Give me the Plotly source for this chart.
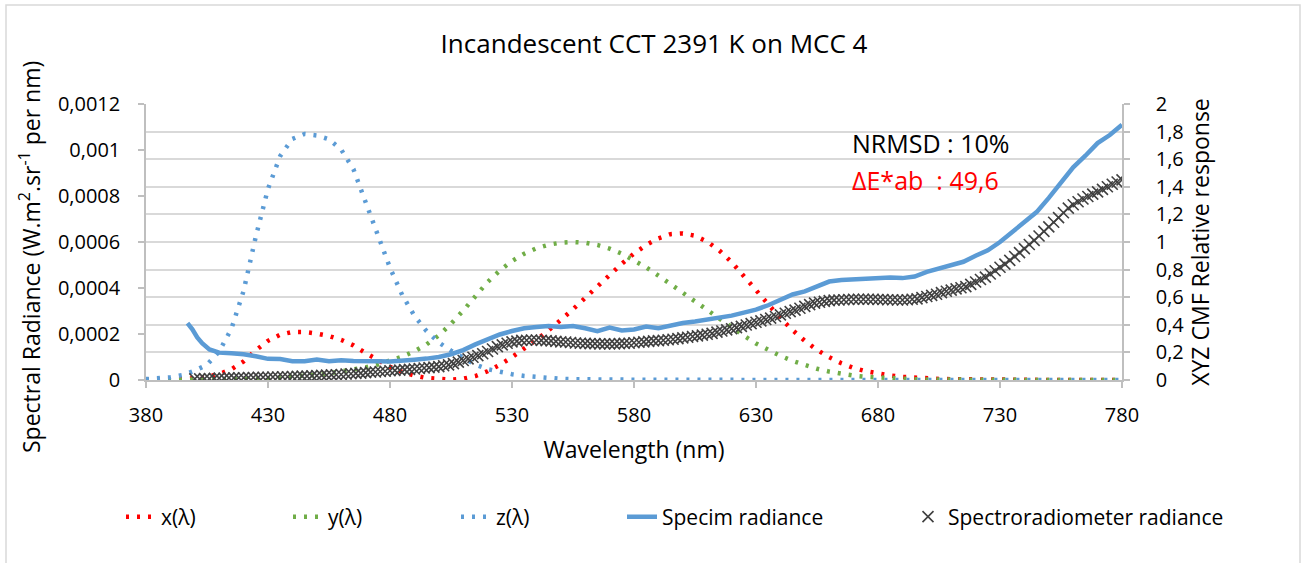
import plotly.graph_objects as go

FONT = "Open Sans"

# CIE 1931 colour matching functions, 380-780 nm every 5 nm (right axis)
cmf_wl = list(range(380, 785, 5))
x_bar = [0.0014, 0.0022, 0.0042, 0.0077, 0.0143, 0.0232, 0.0435, 0.0776, 0.1344, 0.2148,
         0.2839, 0.3285, 0.3483, 0.3481, 0.3362, 0.3187, 0.2908, 0.2511, 0.1954, 0.1421,
         0.0956, 0.0580, 0.0320, 0.0147, 0.0049, 0.0024, 0.0093, 0.0291, 0.0633, 0.1096,
         0.1655, 0.2257, 0.2904, 0.3597, 0.4334, 0.5121, 0.5945, 0.6784, 0.7621, 0.8425,
         0.9163, 0.9786, 1.0263, 1.0567, 1.0622, 1.0456, 1.0026, 0.9384, 0.8544, 0.7514,
         0.6424, 0.5419, 0.4479, 0.3608, 0.2835, 0.2187, 0.1649, 0.1212, 0.0874, 0.0636,
         0.0468, 0.0329, 0.0227, 0.0158, 0.0114, 0.0081, 0.0058, 0.0041, 0.0029, 0.0020,
         0.0014, 0.0010, 0.0007, 0.0005, 0.0003, 0.0002, 0.0002, 0.0001, 0.0001, 0.0001, 0.0000]
y_bar = [0.0000, 0.0001, 0.0001, 0.0002, 0.0004, 0.0006, 0.0012, 0.0022, 0.0040, 0.0073,
         0.0116, 0.0168, 0.0230, 0.0298, 0.0380, 0.0480, 0.0600, 0.0739, 0.0910, 0.1126,
         0.1390, 0.1693, 0.2080, 0.2586, 0.3230, 0.4073, 0.5030, 0.6082, 0.7100, 0.7932,
         0.8620, 0.9149, 0.9540, 0.9803, 0.9950, 1.0000, 0.9950, 0.9786, 0.9520, 0.9154,
         0.8700, 0.8163, 0.7570, 0.6949, 0.6310, 0.5668, 0.5030, 0.4412, 0.3810, 0.3210,
         0.2650, 0.2170, 0.1750, 0.1382, 0.1070, 0.0816, 0.0610, 0.0446, 0.0320, 0.0232,
         0.0170, 0.0119, 0.0082, 0.0057, 0.0041, 0.0029, 0.0021, 0.0015, 0.0010, 0.0007,
         0.0005, 0.0004, 0.0002, 0.0002, 0.0001, 0.0001, 0.0001, 0.0000, 0.0000, 0.0000, 0.0000]
z_bar = [0.0065, 0.0106, 0.0201, 0.0362, 0.0679, 0.1102, 0.2074, 0.3713, 0.6456, 1.0391,
         1.3856, 1.6230, 1.7471, 1.7826, 1.7721, 1.7441, 1.6692, 1.5281, 1.2876, 1.0419,
         0.8130, 0.6162, 0.4652, 0.3533, 0.2720, 0.2123, 0.1582, 0.1117, 0.0783, 0.0573,
         0.0422, 0.0298, 0.0203, 0.0134, 0.0088, 0.0058, 0.0039, 0.0028, 0.0021, 0.0018,
         0.0017, 0.0014, 0.0011, 0.0010, 0.0008, 0.0006, 0.0003, 0.0002, 0.0002, 0.0001,
         0.0, 0.0, 0.0, 0.0, 0.0, 0.0, 0.0, 0.0, 0.0, 0.0,
         0.0, 0.0, 0.0, 0.0, 0.0, 0.0, 0.0, 0.0, 0.0, 0.0,
         0.0, 0.0, 0.0, 0.0, 0.0, 0.0, 0.0, 0.0, 0.0, 0.0, 0.0]

# Specim camera radiance (left axis, W.m-2.sr-1 per nm)
specim_wl = [397, 399, 401, 403, 406, 410, 415, 420, 425, 430,
             435, 440, 445, 450, 455, 460, 465, 470, 475, 480,
             485, 490, 495, 500, 505, 510, 515, 520, 525, 530,
             535, 540, 545, 550, 555, 560, 565, 570, 575, 580,
             585, 590, 595, 600, 605, 610, 615, 620, 625, 630,
             635, 640, 645, 650, 655, 660, 665, 670, 675, 680,
             685, 690, 695, 700, 705, 710, 715, 720, 725, 730,
             735, 740, 745, 750, 755, 760, 765, 770, 775, 780]
specim_rad = [2.47e-4, 2.20e-4, 1.85e-4, 1.60e-4, 1.33e-4, 1.19e-4, 1.16e-4, 1.12e-4, 1.03e-4, 0.92e-4,
              0.91e-4, 0.82e-4, 0.82e-4, 0.89e-4, 0.82e-4, 0.86e-4, 0.83e-4, 0.80e-4, 0.81e-4, 0.80e-4,
              0.82e-4, 0.88e-4, 0.93e-4, 1.00e-4, 1.12e-4, 1.30e-4, 1.55e-4, 1.78e-4, 1.98e-4, 2.13e-4,
              2.25e-4, 2.30e-4, 2.35e-4, 2.31e-4, 2.35e-4, 2.25e-4, 2.12e-4, 2.28e-4, 2.15e-4, 2.20e-4,
              2.32e-4, 2.25e-4, 2.38e-4, 2.48e-4, 2.54e-4, 2.62e-4, 2.70e-4, 2.80e-4, 2.93e-4, 3.06e-4,
              3.25e-4, 3.50e-4, 3.72e-4, 3.85e-4, 4.05e-4, 4.28e-4, 4.35e-4, 4.38e-4, 4.40e-4, 4.44e-4,
              4.46e-4, 4.43e-4, 4.50e-4, 4.70e-4, 4.86e-4, 4.98e-4, 5.14e-4, 5.40e-4, 5.64e-4, 6.00e-4,
              6.42e-4, 6.85e-4, 7.30e-4, 7.92e-4, 8.55e-4, 9.25e-4, 9.75e-4, 10.30e-4, 10.65e-4, 11.10e-4]

# Spectroradiometer radiance, every 2 nm from 400 to 780 nm (left axis)
spectro_wl = list(range(400, 782, 2))
spectro_rad = [
    0.05e-4, 0.05e-4, 0.06e-4, 0.06e-4, 0.07e-4, 0.08e-4, 0.08e-4, 0.09e-4, 0.09e-4, 0.10e-4,
    0.10e-4, 0.11e-4, 0.11e-4, 0.12e-4, 0.12e-4, 0.12e-4, 0.13e-4, 0.13e-4, 0.14e-4, 0.14e-4,
    0.15e-4, 0.16e-4, 0.17e-4, 0.17e-4, 0.18e-4, 0.19e-4, 0.20e-4, 0.21e-4, 0.22e-4, 0.23e-4,
    0.24e-4, 0.26e-4, 0.27e-4, 0.29e-4, 0.30e-4, 0.32e-4, 0.34e-4, 0.35e-4, 0.37e-4, 0.38e-4,
    0.40e-4, 0.42e-4, 0.43e-4, 0.45e-4, 0.46e-4, 0.48e-4, 0.50e-4, 0.52e-4, 0.54e-4, 0.56e-4,
    0.58e-4, 0.62e-4, 0.66e-4, 0.71e-4, 0.78e-4, 0.85e-4, 0.92e-4, 0.99e-4, 1.06e-4, 1.14e-4,
    1.24e-4, 1.35e-4, 1.45e-4, 1.53e-4, 1.60e-4, 1.66e-4, 1.69e-4, 1.72e-4, 1.73e-4, 1.74e-4,
    1.74e-4, 1.72e-4, 1.71e-4, 1.70e-4, 1.68e-4, 1.66e-4, 1.65e-4, 1.63e-4, 1.61e-4, 1.60e-4,
    1.59e-4, 1.58e-4, 1.58e-4, 1.57e-4, 1.57e-4, 1.57e-4, 1.57e-4, 1.58e-4, 1.59e-4, 1.60e-4,
    1.62e-4, 1.64e-4, 1.66e-4, 1.68e-4, 1.70e-4, 1.71e-4, 1.73e-4, 1.75e-4, 1.77e-4, 1.80e-4,
    1.83e-4, 1.86e-4, 1.89e-4, 1.92e-4, 1.95e-4, 1.99e-4, 2.03e-4, 2.08e-4, 2.13e-4, 2.18e-4,
    2.23e-4, 2.28e-4, 2.33e-4, 2.39e-4, 2.45e-4, 2.51e-4, 2.57e-4, 2.63e-4, 2.69e-4, 2.76e-4,
    2.83e-4, 2.90e-4, 2.97e-4, 3.04e-4, 3.12e-4, 3.20e-4, 3.28e-4, 3.34e-4, 3.38e-4, 3.42e-4,
    3.45e-4, 3.47e-4, 3.48e-4, 3.49e-4, 3.50e-4, 3.51e-4, 3.51e-4, 3.51e-4, 3.51e-4, 3.51e-4,
    3.50e-4, 3.50e-4, 3.49e-4, 3.49e-4, 3.48e-4, 3.48e-4, 3.49e-4, 3.51e-4, 3.53e-4, 3.58e-4,
    3.63e-4, 3.68e-4, 3.73e-4, 3.80e-4, 3.86e-4, 3.91e-4, 3.96e-4, 4.01e-4, 4.06e-4, 4.16e-4,
    4.26e-4, 4.37e-4, 4.47e-4, 4.61e-4, 4.75e-4, 4.90e-4, 5.04e-4, 5.20e-4, 5.37e-4, 5.54e-4,
    5.71e-4, 5.89e-4, 6.07e-4, 6.26e-4, 6.46e-4, 6.66e-4, 6.86e-4, 7.06e-4, 7.27e-4, 7.47e-4,
    7.62e-4, 7.75e-4, 7.87e-4, 7.98e-4, 8.08e-4, 8.18e-4, 8.29e-4, 8.40e-4, 8.51e-4, 8.61e-4,
    8.70e-4,
]

RED = "#FF0000"
GREEN = "#70AD47"
BLUE = "#5B9BD5"
GRID = "#D9D9D9"
AXIS = "#BFBFBF"
DOTS = "3px,8px"

fig = go.Figure()

# CMFs on the base y axis (drawn on the right), so the radiance traces sit on top
fig.add_trace(go.Scatter(x=cmf_wl, y=x_bar, name="x(λ)", mode="lines",
                         line=dict(color=RED, width=4.5, dash=DOTS), legend="legend"))
fig.add_trace(go.Scatter(x=cmf_wl, y=y_bar, name="y(λ)", mode="lines",
                         line=dict(color=GREEN, width=4.5, dash=DOTS), legend="legend2"))
fig.add_trace(go.Scatter(x=cmf_wl, y=z_bar, name="z(λ)", mode="lines",
                         line=dict(color=BLUE, width=4.5, dash=DOTS), legend="legend3"))

fig.add_trace(go.Scatter(x=spectro_wl, y=spectro_rad, name="Spectroradiometer radiance",
                         mode="markers", yaxis="y2", legend="legend5",
                         marker=dict(symbol="x-thin", size=11, color="#404040",
                                     line=dict(width=1.6, color="#404040"))))
fig.add_trace(go.Scatter(x=specim_wl, y=specim_rad, name="Specim radiance", mode="lines",
                         yaxis="y2", legend="legend4",
                         line=dict(color=BLUE, width=4.5)))

# plot area in pixels: x 146..1122, y 104..380
def px_x(p):
    return (p - 146) / 976

def px_y(p):
    return (380 - p) / 276

leg_font = dict(family=FONT, size=21, color="#000000")
leg_y = px_y(517)
legends = {}
for key, text_px in [("legend", 163), ("legend2", 330), ("legend3", 498),
                     ("legend4", 664), ("legend5", 950)]:
    legends[key] = dict(x=px_x(text_px - 42), y=leg_y, xanchor="left", yanchor="middle",
                        orientation="h", font=leg_font, bgcolor="rgba(0,0,0,0)")

fig.update_layout(
    width=1301, height=563,
    margin=dict(l=146, r=179, t=104, b=183),
    paper_bgcolor="white", plot_bgcolor="white",
    separators=", ",
    showlegend=True,
    font=dict(family=FONT, size=20, color="#000000"),
    title=dict(text="Incandescent CCT 2391 K on MCC 4", x=654 / 1301, xanchor="center",
               y=1 - 44 / 563, yanchor="middle",
               font=dict(family=FONT, size=26, color="#000000")),
    xaxis=dict(range=[380, 780], tick0=380, dtick=50, showgrid=False, zeroline=False,
               showline=True, linecolor=AXIS, linewidth=1.5,
               ticks="outside", ticklen=6, tickcolor=AXIS, tickwidth=1.5,
               ticklabelstandoff=10, tickfont=dict(size=20), automargin=False,
               title=dict(text="Wavelength (nm)", font=dict(size=23), standoff=15)),
    yaxis=dict(range=[0, 2], dtick=0.2, side="right", showgrid=True, gridcolor=GRID,
               gridwidth=1.5, zeroline=False, showline=True, linecolor=AXIS, linewidth=1.5,
               ticks="outside", ticklen=6, tickcolor=AXIS, tickwidth=1.5,
               ticklabelstandoff=22, tickfont=dict(size=20), automargin=False,
               title=dict(text="XYZ CMF Relative response", font=dict(size=23), standoff=7)),
    yaxis2=dict(range=[0, 0.0012], dtick=0.0002, overlaying="y", side="left",
                showgrid=False, zeroline=False, showline=True, linecolor=AXIS, linewidth=1.5,
                ticks="outside", ticklen=6, tickcolor=AXIS, tickwidth=1.5,
                ticklabelstandoff=14, tickfont=dict(size=20), automargin=False),
    annotations=[
        dict(text="Spectral Radiance (W.m<sup>2</sup>.sr<sup>-1</sup> per nm)",
             x=px_x(30), y=px_y(257), xref="paper", yref="paper", textangle=-90,
             xanchor="center", yanchor="middle", showarrow=False,
             font=dict(family=FONT, size=23, color="#000000")),
        dict(text="NRMSD : 10%", x=px_x(850), y=px_y(143), xref="paper", yref="paper",
             xanchor="left", yanchor="middle", showarrow=False,
             font=dict(family=FONT, size=25, color="#000000")),
        dict(text="ΔE*ab\u00a0 : 49,6", x=px_x(850), y=px_y(180), xref="paper", yref="paper",
             xanchor="left", yanchor="middle", showarrow=False,
             font=dict(family=FONT, size=25, color=RED)),
    ],
    shapes=[dict(type="rect", xref="paper", yref="paper",
                 x0=px_x(6), x1=px_x(1300), y0=px_y(600), y1=px_y(5),
                 line=dict(color=GRID, width=1.5), fillcolor="rgba(0,0,0,0)", layer="below")],
    **legends,
)

# the page's default body margin would shift the figure by 8 px
fig.write_html("out.html", config={"displayModeBar": False},
               post_script="document.body.style.margin = '0';")
